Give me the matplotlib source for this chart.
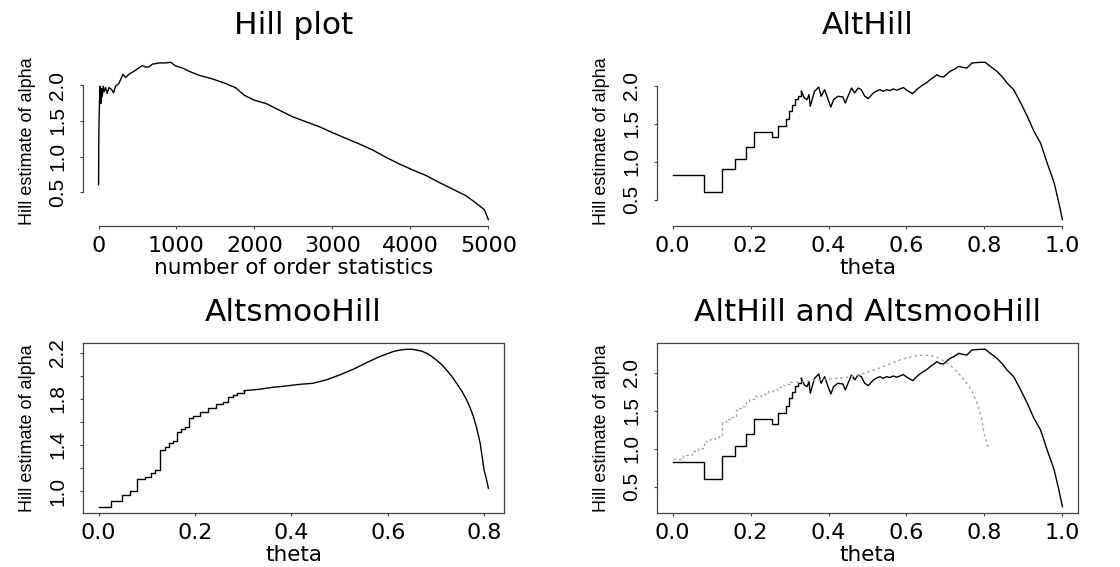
import numpy as np
import matplotlib
matplotlib.use("Agg")
import matplotlib.pyplot as plt

# Hill plot: (number of order statistics, Hill estimate)
hill_k = [1, 4, 13, 21, 30, 39, 47, 60, 73, 90, 111, 133, 167, 193, 218, 261, 313, 347,
          390, 475, 561, 604, 646, 689, 775, 860, 925, 989, 1075, 1160, 1289, 1460, 1631,
          1760, 1867, 1995, 2145, 2316, 2487, 2659, 2830, 3001, 3172, 3344, 3515, 3686,
          3857, 4028, 4200, 4371, 4542, 4713, 4842, 4949, 5000]
hill_alpha = [0.607, 1.327, 1.791, 1.986, 1.745, 1.954, 1.837, 1.986, 1.907, 1.967, 1.884,
              1.967, 1.940, 1.893, 1.986, 2.023, 2.153, 2.107, 2.153, 2.209, 2.274, 2.255,
              2.255, 2.293, 2.311, 2.311, 2.320, 2.269, 2.241, 2.195, 2.139, 2.088, 2.023,
              1.963, 1.861, 1.791, 1.745, 1.652, 1.559, 1.489, 1.420, 1.336, 1.257, 1.178,
              1.094, 0.992, 0.899, 0.816, 0.737, 0.639, 0.546, 0.454, 0.351, 0.258, 0.119]

# AltHill: stepwise start, then rough curve
alt_step_theta = [0.0, 0.0808, 0.128, 0.160, 0.188, 0.209, 0.255, 0.270, 0.291, 0.298,
                  0.306, 0.313, 0.321, 0.330]
alt_step_alpha = [0.829, 0.601, 0.903, 1.039, 1.189, 1.386, 1.320, 1.465, 1.566, 1.662,
                  1.750, 1.825, 1.868, 1.925]
alt_theta = [0.330, 0.338, 0.345, 0.350, 0.353, 0.358, 0.364, 0.370, 0.375, 0.381, 0.390,
             0.399, 0.406, 0.413, 0.424, 0.437, 0.443, 0.450, 0.459, 0.467, 0.476, 0.484,
             0.493, 0.502, 0.515, 0.524, 0.532, 0.540, 0.549, 0.557, 0.566, 0.575, 0.583,
             0.592, 0.601, 0.616, 0.631, 0.643, 0.652, 0.661, 0.670, 0.678, 0.686, 0.695,
             0.712, 0.723, 0.734, 0.745, 0.755, 0.768, 0.790, 0.802, 0.815, 0.832, 0.845,
             0.858, 0.875, 0.893, 0.910, 0.927, 0.944, 0.961, 0.979, 0.991, 1.0]
alt_alpha = [1.925, 1.838, 1.816, 1.882, 1.728, 1.816, 1.925, 1.956, 1.982, 1.860, 1.947,
             1.816, 1.719, 1.816, 1.860, 1.851, 1.772, 1.860, 1.969, 1.904, 1.969, 1.947,
             1.860, 1.829, 1.904, 1.930, 1.947, 1.925, 1.947, 1.935, 1.956, 1.940, 1.956,
             1.975, 1.939, 1.895, 1.969, 2.013, 2.040, 2.079, 2.110, 2.145, 2.120, 2.114,
             2.189, 2.215, 2.254, 2.240, 2.232, 2.298, 2.307, 2.307, 2.254, 2.189, 2.120,
             2.035, 1.947, 1.772, 1.596, 1.399, 1.246, 0.982, 0.719, 0.456, 0.237]

# AltsmooHill
smoo_step_theta = [0.0, 0.0257, 0.0486, 0.0646, 0.0799, 0.0958, 0.108, 0.118, 0.128,
                   0.1375, 0.146, 0.154, 0.162, 0.170, 0.179, 0.1875, 0.196, 0.210, 0.228,
                   0.244, 0.258, 0.269, 0.279, 0.288, 0.302]
smoo_step_alpha = [0.864, 0.916, 0.968, 1.003, 1.101, 1.124, 1.153, 1.182, 1.356, 1.385,
                   1.413, 1.434, 1.515, 1.535, 1.558, 1.630, 1.651, 1.688, 1.717, 1.755,
                   1.775, 1.812, 1.833, 1.853, 1.870]
smoo_theta = [0.302, 0.333, 0.361, 0.389, 0.417, 0.444, 0.472, 0.500, 0.528, 0.556, 0.583,
              0.611, 0.625, 0.639, 0.650, 0.660, 0.671, 0.681, 0.691, 0.701, 0.712, 0.722,
              0.733, 0.743, 0.754, 0.764, 0.771, 0.778, 0.785, 0.792, 0.800, 0.805, 0.809]
smoo_alpha = [1.870, 1.882, 1.899, 1.911, 1.925, 1.934, 1.963, 2.006, 2.055, 2.113, 2.165,
              2.209, 2.222, 2.229, 2.229, 2.223, 2.212, 2.194, 2.168, 2.136, 2.097, 2.050,
              1.995, 1.934, 1.865, 1.789, 1.722, 1.645, 1.540, 1.413, 1.182, 1.100, 1.023]

HFONT = "DejaVu Sans"
VFONT = ["Liberation Sans", "DejaVu Sans"]
AX_COL = "#444444"


def r_limits(lo, hi):
    pad = (hi - lo) * 0.04
    return lo - pad, hi + pad


def style_axes(ax, title, xlabel, yticks, ylabels, xticks, xlabels, box):
    ax.set_title(title, fontsize=22.5, family=HFONT, pad=16)
    ax.set_xlabel(xlabel, fontsize=15.5, family=HFONT, labelpad=1)
    ax.set_ylabel("Hill estimate of alpha", fontsize=13, family=VFONT, labelpad=9)
    ax.set_xticks(xticks)
    ax.set_xticklabels(xlabels, fontsize=16, family=HFONT)
    ax.set_yticks(yticks)
    ax.set_yticklabels(ylabels, fontsize=15, family=VFONT, rotation=90, va="center")
    ax.tick_params(length=2.5, width=0.8, color=AX_COL)
    ax.tick_params(axis="x", pad=5)
    ax.tick_params(axis="y", pad=9)
    for s in ax.spines.values():
        s.set_color(AX_COL)
        s.set_linewidth(0.9)
    if not box:
        ax.spines["top"].set_visible(False)
        ax.spines["right"].set_visible(False)
        ax.spines["left"].set_bounds(yticks[0], yticks[-1])
        ax.spines["bottom"].set_bounds(xticks[0], xticks[-1])


def draw_alt(ax, **kw):
    ax.plot(alt_step_theta, alt_step_alpha, drawstyle="steps-post", **kw)
    ax.plot(alt_theta, alt_alpha, **kw)


def draw_smoo(ax, **kw):
    ax.plot(smoo_step_theta, smoo_step_alpha, drawstyle="steps-post", **kw)
    ax.plot(smoo_theta, smoo_alpha, **kw)


fig = plt.figure(figsize=(11.2, 5.67), dpi=100)
axL = 83 / 1120
axR = 657 / 1120
axW = 421 / 1120
axH = 170 / 567
ax1 = fig.add_axes([axL, 1 - 226 / 567, axW, axH])
ax2 = fig.add_axes([axR, 1 - 226 / 567, axW, axH])
ax3 = fig.add_axes([axL, 1 - 513 / 567, axW, axH])
ax4 = fig.add_axes([axR, 1 - 513 / 567, axW, axH])

line = dict(color="black", lw=1.0)

# Hill plot
ax1.plot(hill_k, hill_alpha, **line)
ax1.set_xlim(*r_limits(1, 5000))
ax1.set_ylim(*r_limits(min(hill_alpha), max(hill_alpha)))
style_axes(ax1, "Hill plot", "number of order statistics",
           [0.5, 1.0, 1.5, 2.0], ["0.5", "1.0", "1.5", "2.0"],
           [0, 1000, 2000, 3000, 4000, 5000], ["0", "1000", "2000", "3000", "4000", "5000"],
           box=False)

theta_ticks = [0.0, 0.2, 0.4, 0.6, 0.8, 1.0]
theta_labels = ["0.0", "0.2", "0.4", "0.6", "0.8", "1.0"]
alt_lo = min(alt_step_alpha + alt_alpha)
alt_hi = max(alt_step_alpha + alt_alpha)

# AltHill
draw_alt(ax2, **line)
ax2.set_xlim(*r_limits(0, 1))
ax2.set_ylim(*r_limits(alt_lo, alt_hi))
style_axes(ax2, "AltHill", "theta", [0.5, 1.0, 1.5, 2.0], ["0.5", "1.0", "1.5", "2.0"],
           theta_ticks, theta_labels, box=False)

# AltsmooHill
draw_smoo(ax3, **line)
ax3.set_xlim(*r_limits(0, max(smoo_theta)))
ax3.set_ylim(*r_limits(min(smoo_step_alpha), max(smoo_alpha)))
style_axes(ax3, "AltsmooHill", "theta", [1.0, 1.2, 1.4, 1.6, 1.8, 2.0, 2.2],
           ["1.0", "", "1.4", "", "1.8", "", "2.2"],
           theta_ticks[:5], theta_labels[:5], box=True)

# both
draw_alt(ax4, **line)
draw_smoo(ax4, color="#a8a8a8", lw=1.0, linestyle=(0, (2, 2)))
ax4.set_xlim(*r_limits(0, 1))
ax4.set_ylim(*r_limits(alt_lo, alt_hi))
style_axes(ax4, "AltHill and AltsmooHill", "theta", [0.5, 1.0, 1.5, 2.0],
           ["0.5", "1.0", "1.5", "2.0"], theta_ticks, theta_labels, box=True)

fig.savefig("out.png", dpi=100)
